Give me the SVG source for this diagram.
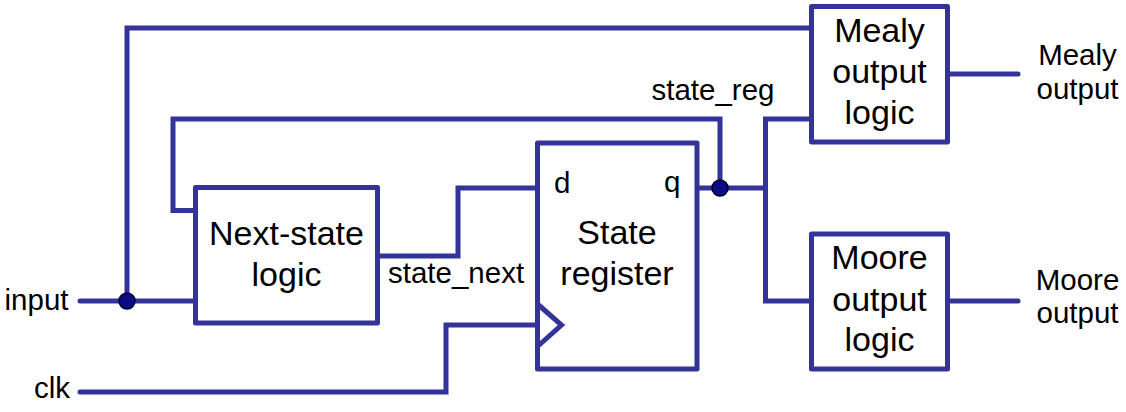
<svg xmlns="http://www.w3.org/2000/svg" width="1126" height="412" viewBox="0 0 1126 412">
<style>
.w{fill:none;stroke:#333399;stroke-width:5;stroke-linecap:round;stroke-linejoin:miter}
.b{fill:#ffffff;stroke:#333399;stroke-width:5;stroke-linejoin:round}
.t{font-family:"Liberation Sans",Arial,sans-serif;font-size:34px;fill:#000;text-anchor:middle}
.s{font-family:"Liberation Sans",Arial,sans-serif;font-size:29.5px;fill:#000}
.dot{fill:#0b0b86;stroke:#000022;stroke-width:1.5}
</style>
<rect width="1126" height="412" fill="#ffffff"/>
<g id="connectors">
<path class="w" d="M127,301 V28 H811"/>
<path class="w" d="M80,301 H195"/>
<path class="w" d="M195,210.5 H173 V119 H720 V188"/>
<path class="w" d="M377.5,256 H458 V188 H537.5"/>
<path class="w" d="M80,392 H446 V325 H537.5"/>
<path class="w" d="M697,188 H765.5"/>
<path class="w" d="M811,119 H765.5 V301 H811"/>
<path class="w" d="M947.5,74 H1018"/>
<path class="w" d="M947.5,301 H1018"/>
<circle class="dot" cx="127" cy="301" r="8"/>
<circle class="dot" cx="720" cy="188" r="8"/>
<text class="s" x="388" y="283">state_next</text>
<text class="s" x="651.5" y="99.5">state_reg</text>
</g>
<g id="input">
<text class="s" x="68.5" y="309.5" text-anchor="end">input</text>
</g>
<g id="clk">
<text class="s" x="70" y="398" text-anchor="end">clk</text>
</g>
<g id="next-state">
<rect class="b" x="195.5" y="187.5" width="182" height="135.5"/>
<text class="t" x="286.5" y="245">Next-state</text>
<text class="t" x="286.5" y="286">logic</text>
</g>
<g id="state-register">
<rect class="b" x="537.5" y="143" width="159.5" height="226"/>
<path class="w" d="M537.5,304 L561.5,325 L537.5,346.5" stroke-linecap="butt"/>
<text class="s" x="554" y="192.5">d</text>
<text class="s" x="664" y="192">q</text>
<text class="t" x="617" y="244">State</text>
<text class="t" x="617" y="285">register</text>
</g>
<g id="mealy">
<rect class="b" x="811.5" y="6.5" width="136" height="135.5"/>
<text class="t" x="879.5" y="41.5">Mealy</text>
<text class="t" x="879.5" y="83">output</text>
<text class="t" x="879.5" y="124">logic</text>
</g>
<g id="moore">
<rect class="b" x="811.5" y="234" width="136" height="135"/>
<text class="t" x="879.5" y="269">Moore</text>
<text class="t" x="879.5" y="310.5">output</text>
<text class="t" x="879.5" y="351">logic</text>
</g>
<g id="mealy-output">
<text class="s" x="1077.5" y="65" text-anchor="middle">Mealy</text>
<text class="s" x="1077.5" y="98.5" text-anchor="middle">output</text>
</g>
<g id="moore-output">
<text class="s" x="1077.5" y="290" text-anchor="middle">Moore</text>
<text class="s" x="1077.5" y="323" text-anchor="middle">output</text>
</g>
</svg>
